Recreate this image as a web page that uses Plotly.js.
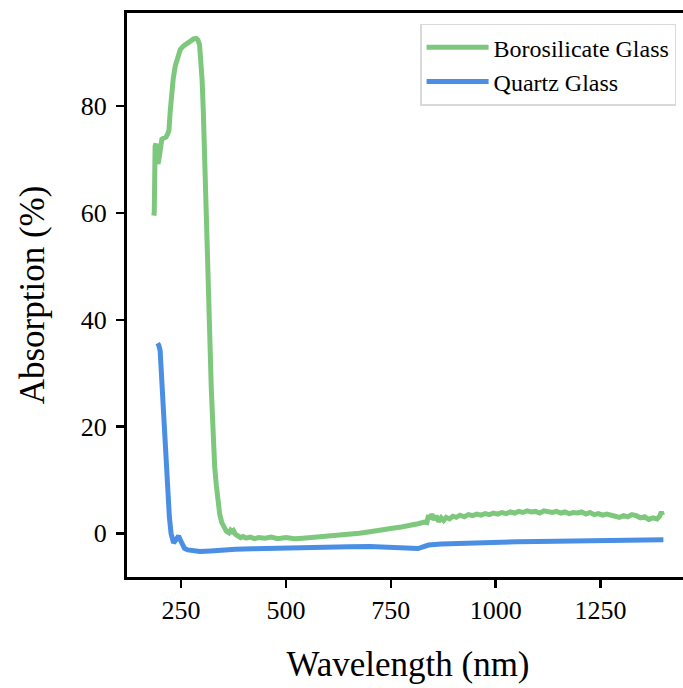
<!DOCTYPE html>
<html>
<head>
<meta charset="utf-8">
<script src="https://cdn.plot.ly/plotly-3.0.1.min.js"></script>
<style>
html,body{margin:0;padding:0;overflow:hidden;background:#fff;}
#chart{width:700px;height:688px;}
</style>
</head>
<body>
<div id="chart"></div>
<script>
// Borosilicate Glass absorption spectrum
const boroWavelength = [185,186,188,190,192,195,198,201,204,208,214,218,221,224,227,231,236,242,248,256,264,272,280,286,290,294,297,300,303,306,309,312,315,318,322,326,330,334,338,342,347,352,358,364,368,372,375,380,386,392,398,405,415,425,435,450,465,480,500,520,540,560,580,600,625,650,675,700,725,750,775,800,815,830,836,840,844,848,853,858,864,870,876,882,890,898,906,915,925,935,945,955,965,975,985,995,1005,1015,1025,1035,1045,1055,1065,1075,1085,1095,1105,1115,1125,1135,1145,1155,1165,1175,1185,1195,1205,1215,1225,1235,1245,1255,1265,1275,1285,1295,1305,1315,1325,1335,1345,1355,1365,1375,1385,1391,1395,1398,1401];
const boroAbs = [59.5,60.2,72.5,73.0,70.2,69.2,70.5,72.0,73.8,74.0,74.2,74.8,75.5,79.0,82.0,85.0,87.5,89.5,90.6,91.3,91.8,92.2,92.6,92.7,92.4,91.5,89.0,85.0,79.0,72.0,65.0,57.0,48.0,38.0,27.0,18.5,12.5,9.0,5.8,3.6,2.0,1.1,0.4,0.1,0.6,0.3,0.5,-0.2,-0.5,-0.8,-0.6,-0.9,-0.7,-1.0,-0.8,-0.9,-0.7,-1.0,-0.8,-1.0,-0.9,-0.8,-0.6,-0.5,-0.4,-0.2,0.0,0.3,0.5,0.9,1.2,1.5,1.8,2.1,2.0,3.4,2.7,3.6,2.5,3.3,2.2,2.9,2.4,3.0,2.7,3.2,3.0,3.4,3.1,3.5,3.3,3.6,3.4,3.7,3.5,3.8,3.6,3.9,3.7,4.0,3.8,4.1,3.9,4.2,4.0,4.1,3.8,4.2,4.0,3.9,4.1,3.8,4.0,3.7,3.9,3.8,4.0,3.6,3.9,3.5,3.7,3.4,3.6,3.3,3.2,3.0,3.3,3.1,3.5,3.3,2.9,3.1,2.6,2.9,2.7,3.2,4.0,3.4];

// Quartz Glass absorption spectrum
const quartzWavelength = [194,197,200,203,206,210,214,218,222,226,229,232,236,240,244,248,252,258,266,280,295,320,350,380,420,460,500,550,600,650,700,750,790,815,825,840,870,900,950,1000,1050,1100,1150,1200,1250,1300,1350,1400];
const quartzAbs = [35.6,35.2,34.2,30.0,25.0,18.5,12.5,7.5,3.1,0.0,-1.6,-1.8,-1.4,-0.7,-0.5,-1.2,-2.1,-2.8,-3.1,-3.3,-3.4,-3.3,-3.1,-3.0,-2.9,-2.8,-2.7,-2.6,-2.55,-2.5,-2.45,-2.6,-2.75,-2.85,-2.6,-2.2,-2.0,-1.9,-1.8,-1.7,-1.6,-1.55,-1.5,-1.45,-1.4,-1.35,-1.3,-1.2];

const seriesNames = ["Borosilicate Glass","Quartz Glass"];
const xTicks = [250,500,750,1000,1250];
const yTicks = [0,20,40,60,80];

const font = "'Liberation Serif','Times New Roman',serif";

const traces = [
  {x: boroWavelength, y: boroAbs, name: seriesNames[0], type: "scatter", mode: "lines",
   line: {color: "#7ec87e", width: 5}},
  {x: quartzWavelength, y: quartzAbs, name: seriesNames[1], type: "scatter", mode: "lines",
   line: {color: "#4a8fe3", width: 5}}
];

const layout = {
  width: 700, height: 688,
  margin: {l: 127, r: 11, t: 13, b: 111},
  paper_bgcolor: "#fff", plot_bgcolor: "#fff",
  font: {family: font, color: "#000", size: 26},
  showlegend: true,
  legend: {
    x: 0.977, y: 0.981, xanchor: "right", yanchor: "top",
    bgcolor: "rgba(255,255,255,0.8)", bordercolor: "#d9d9d9", borderwidth: 1.5,
    font: {family: font, size: 24, color: "#000"},
    itemwidth: 62, tracegroupgap: 0
  },
  xaxis: {
    range: [121, 1461], tickvals: xTicks, ticktext: xTicks.map(String),
    showgrid: false, zeroline: false, showline: true, linecolor: "#000", linewidth: 3,
    mirror: true, ticks: "outside", ticklen: 8, tickwidth: 2.5, tickcolor: "#000",
    tickfont: {family: font, size: 26},
    title: {text: "Wavelength (nm)", font: {family: font, size: 35}, standoff: 28}
  },
  yaxis: {
    range: [-8.18, 97.45], tickvals: yTicks, ticktext: yTicks.map(String),
    showgrid: false, zeroline: false, showline: true, linecolor: "#000", linewidth: 3,
    mirror: true, ticks: "outside", ticklen: 8, tickwidth: 2.5, tickcolor: "#000",
    ticklabelstandoff: 4,
    tickfont: {family: font, size: 26},
    title: {text: "Absorption (%)", font: {family: font, size: 35}, standoff: 26}
  }
};

Plotly.newPlot("chart", traces, layout, {displayModeBar: false, staticPlot: true});
</script>
</body>
</html>
